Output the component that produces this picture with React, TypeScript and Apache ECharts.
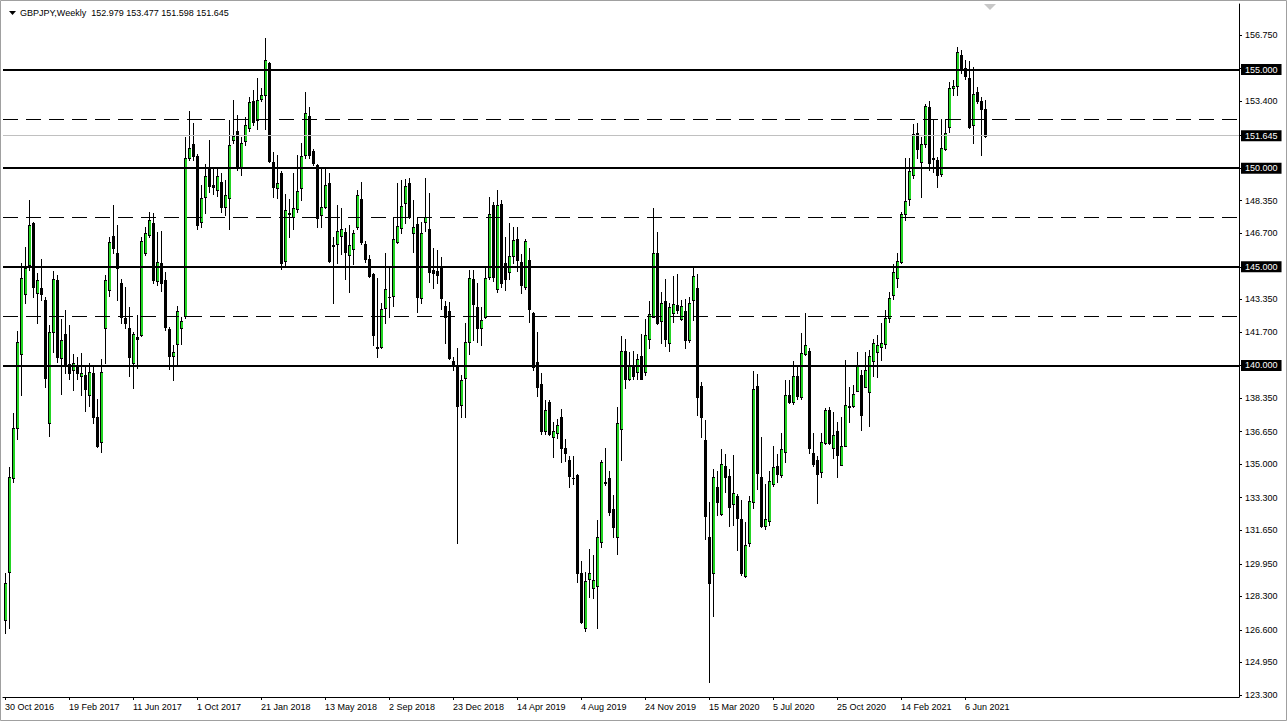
import React, { useEffect, useRef } from "react";
import * as echarts from "echarts";

const FONT = "'Liberation Sans', Arial, sans-serif";

const symbolTitle = "GBPJPY,Weekly";

// one label every 16 weekly bars, starting with the first bar
const dateLabels = [
  "30 Oct 2016", "19 Feb 2017", "11 Jun 2017", "1 Oct 2017", "21 Jan 2018",
  "13 May 2018", "2 Sep 2018", "23 Dec 2018", "14 Apr 2019", "4 Aug 2019",
  "24 Nov 2019", "15 Mar 2020", "5 Jul 2020", "25 Oct 2020", "14 Feb 2021",
  "6 Jun 2021",
];
const labelStep = 16;
// bars that fit in the window, including the empty space on the right
const totalSlots = 309;

const opens = [
  127.10, 129.55, 134.28, 136.81, 140.57, 143.60, 145.09, 147.23, 143.66, 143.95,
  143.32, 137.07, 141.70, 144.33, 140.36, 141.60, 140.08, 139.77, 139.91, 139.47,
  139.52, 138.50, 139.64, 137.40, 136.10, 141.88, 143.82, 146.55, 145.69, 144.16,
  142.40, 141.88, 140.15, 141.46, 141.56, 145.72, 146.60, 147.20, 144.30, 145.18,
  144.33, 141.85, 140.50, 141.08, 141.88, 142.51, 150.53, 151.22, 150.60, 147.28,
  148.54, 150.01, 149.15, 148.90, 149.28, 148.04, 148.47, 151.43, 151.89, 150.03,
  151.38, 152.06, 153.41, 152.44, 153.52, 153.71, 155.34, 150.33, 148.98, 149.76,
  145.30, 147.67, 147.53, 147.91, 148.98, 150.67, 152.65, 150.87, 150.16, 147.63,
  148.04, 149.23, 146.05, 146.15, 146.58, 146.78, 145.60, 145.91, 147.00, 148.44,
  146.18, 145.42, 144.63, 140.95, 140.93, 142.90, 143.45, 143.50, 146.24, 146.97,
  148.26, 149.27, 146.72, 147.17, 143.40, 147.27, 146.90, 144.85, 144.77, 145.00,
  142.99, 142.74, 140.23, 140.03, 137.99, 139.35, 141.17, 144.38, 142.98, 141.88,
  142.46, 144.50, 148.13, 143.90, 148.17, 145.18, 144.72, 145.55, 146.40, 145.26,
  143.98, 145.35, 142.65, 140.19, 139.06, 136.69, 138.17, 136.40, 136.58, 137.38,
  135.80, 135.22, 134.32, 134.45, 129.46, 126.71, 129.18, 128.70, 128.80, 131.07,
  134.10, 134.30, 132.72, 131.29, 136.78, 140.74, 139.32, 139.92, 139.69, 140.50,
  139.69, 141.34, 142.48, 145.70, 142.23, 143.25, 141.14, 142.68, 143.06, 142.38,
  142.76, 141.30, 143.30, 143.95, 138.95, 136.20, 131.33, 129.50, 133.84, 132.47,
  134.92, 134.38, 132.98, 133.39, 132.22, 129.33, 130.99, 133.10, 138.96, 134.33,
  131.84, 132.14, 133.99, 134.90, 134.45, 135.63, 138.50, 138.17, 139.47, 138.39,
  140.60, 140.75, 135.58, 135.21, 134.62, 136.06, 137.72, 135.83, 136.68, 134.98,
  135.92, 137.88, 137.93, 138.72, 139.52, 138.93, 138.67, 140.24, 140.70, 140.95,
  141.10, 142.40, 143.55, 144.42, 145.26, 147.68, 148.42, 149.63, 151.77, 150.30,
  151.21, 153.11, 150.50, 150.40, 149.70, 150.96, 152.10, 154.05, 154.14, 155.74,
  155.06, 154.56, 152.19, 153.88, 153.42, 152.979,
];

const closes = [
  128.98, 134.35, 136.81, 141.18, 144.42, 144.93, 147.14, 143.98, 144.33, 143.60,
  139.39, 141.70, 144.37, 140.45, 141.28, 139.97, 139.64, 140.12, 139.61, 139.64,
  138.81, 139.69, 137.38, 135.92, 139.69, 144.33, 146.24, 145.94, 144.93, 142.44,
  142.17, 140.45, 141.60, 141.36, 146.32, 146.70, 147.37, 144.33, 145.26, 144.16,
  141.93, 140.48, 140.66, 142.76, 142.25, 150.53, 151.03, 150.60, 147.12, 148.47,
  149.59, 149.10, 149.03, 149.60, 148.04, 148.64, 151.20, 151.63, 150.03, 151.30,
  152.19, 153.36, 152.36, 153.45, 153.72, 155.48, 150.37, 149.03, 149.23, 145.20,
  147.88, 147.75, 148.00, 148.84, 150.60, 152.79, 150.67, 150.25, 147.49, 148.04,
  149.14, 145.30, 146.10, 146.82, 146.90, 145.77, 146.12, 146.70, 148.64, 146.28,
  145.42, 144.53, 141.55, 140.90, 142.87, 143.87, 143.45, 146.40, 147.07, 148.10,
  149.10, 147.54, 147.02, 143.45, 146.70, 147.53, 144.72, 144.69, 144.60, 143.40,
  142.48, 140.40, 139.96, 137.95, 139.27, 141.20, 144.45, 143.10, 141.88, 142.30,
  144.42, 147.66, 144.48, 148.13, 144.20, 144.37, 145.54, 146.36, 145.33, 144.08,
  146.30, 142.85, 139.91, 138.89, 136.69, 137.74, 136.53, 136.67, 137.00, 135.80,
  135.57, 134.38, 134.28, 129.50, 127.00, 129.10, 129.48, 129.13, 131.29, 135.12,
  134.05, 132.55, 131.81, 137.10, 140.74, 139.34, 139.96, 139.47, 140.33, 139.34,
  141.55, 142.60, 145.70, 142.14, 143.19, 141.34, 142.96, 143.10, 142.83, 143.00,
  141.30, 143.16, 144.54, 138.40, 137.40, 132.35, 129.00, 134.35, 133.10, 134.99,
  134.33, 132.83, 133.54, 132.27, 129.50, 130.90, 133.14, 138.79, 134.57, 131.86,
  132.20, 134.16, 134.87, 134.50, 135.75, 138.50, 138.17, 139.47, 138.43, 140.62,
  141.06, 135.80, 135.00, 134.50, 136.14, 137.75, 136.06, 136.48, 135.46, 135.90,
  138.00, 137.95, 138.56, 139.97, 137.49, 139.77, 140.48, 141.15, 141.06, 141.12,
  142.40, 143.44, 144.72, 145.31, 147.68, 148.34, 149.86, 151.72, 150.96, 151.21,
  153.13, 150.24, 150.45, 149.65, 151.00, 151.77, 154.06, 154.14, 155.88, 155.01,
  154.67, 152.11, 153.76, 153.42, 152.99, 151.645,
];

const lows = [
  126.44, 126.70, 134.10, 136.27, 138.50, 143.17, 144.84, 143.47, 142.14, 143.32,
  138.89, 136.43, 140.70, 140.20, 138.55, 139.60, 139.34, 138.76, 139.34, 138.50,
  137.71, 137.95, 137.10, 135.85, 135.60, 140.12, 143.50, 145.69, 143.32, 142.17,
  141.90, 139.47, 138.86, 139.86, 141.50, 145.60, 146.50, 144.20, 144.10, 143.80,
  141.80, 139.81, 139.27, 140.06, 141.10, 142.40, 150.40, 150.40, 146.90, 147.02,
  147.75, 148.80, 148.70, 148.60, 147.80, 147.63, 146.94, 151.26, 149.90, 149.66,
  151.17, 151.90, 152.20, 151.98, 153.40, 151.99, 150.30, 148.55, 148.47, 144.90,
  145.00, 146.50, 146.90, 147.80, 148.39, 150.50, 150.50, 150.16, 147.02, 147.02,
  147.96, 145.26, 143.19, 145.17, 145.67, 144.38, 143.75, 145.15, 146.90, 146.18,
  145.27, 144.50, 141.04, 140.45, 140.87, 142.14, 142.48, 143.00, 146.20, 146.70,
  147.20, 147.45, 145.76, 142.72, 143.17, 146.82, 144.24, 143.95, 144.16, 142.84,
  141.15, 140.35, 139.77, 131.02, 137.40, 137.37, 140.56, 141.30, 141.20, 141.04,
  142.40, 144.40, 144.30, 143.73, 144.00, 143.83, 144.38, 145.18, 144.77, 143.65,
  143.90, 142.20, 139.77, 138.45, 136.55, 136.53, 136.46, 135.38, 136.30, 135.12,
  135.17, 133.83, 134.00, 129.04, 126.93, 126.55, 128.27, 128.20, 126.68, 130.82,
  133.94, 132.42, 131.29, 130.45, 135.20, 138.85, 139.25, 139.34, 139.34, 139.31,
  139.52, 140.87, 142.46, 142.10, 141.15, 140.99, 140.74, 142.20, 142.64, 142.30,
  140.87, 141.20, 142.30, 137.50, 136.40, 131.20, 123.97, 127.30, 132.42, 132.40,
  133.59, 131.87, 131.90, 130.65, 129.40, 129.27, 130.85, 132.76, 133.73, 131.80,
  131.69, 131.90, 133.89, 134.12, 134.33, 135.12, 138.08, 138.05, 138.28, 138.30,
  140.54, 135.55, 134.90, 133.02, 134.36, 136.00, 136.00, 135.30, 134.36, 134.96,
  135.90, 137.15, 137.90, 138.70, 136.73, 138.90, 136.93, 139.47, 139.43, 140.28,
  140.90, 142.20, 143.35, 143.99, 145.20, 147.38, 148.14, 149.48, 150.50, 148.52,
  151.09, 149.91, 149.82, 149.05, 149.60, 150.90, 151.85, 153.71, 153.71, 154.80,
  154.50, 152.02, 151.29, 153.30, 150.66, 151.598,
];

const highs = [
  129.48, 134.87, 137.60, 141.75, 145.18, 146.00, 148.40, 147.27, 144.67, 145.38,
  143.49, 142.05, 144.79, 144.59, 142.34, 142.80, 142.05, 140.60, 140.43, 140.62,
  140.03, 140.12, 139.95, 138.30, 140.31, 144.59, 146.53, 148.14, 147.10, 144.37,
  143.98, 142.97, 141.70, 142.55, 146.53, 147.00, 147.80, 147.75, 146.78, 146.82,
  144.74, 141.96, 141.06, 143.00, 142.46, 151.60, 152.90, 152.27, 150.70, 149.15,
  150.23, 151.43, 150.03, 149.98, 149.74, 149.40, 152.44, 153.46, 152.69, 151.60,
  152.57, 153.60, 153.97, 154.56, 154.07, 156.58, 155.40, 150.82, 150.65, 149.85,
  148.70, 148.46, 149.76, 150.67, 151.26, 153.86, 153.10, 150.95, 150.20, 149.98,
  149.98, 149.74, 146.53, 148.13, 147.96, 146.95, 147.12, 146.87, 148.89, 149.30,
  146.30, 145.60, 144.70, 144.43, 143.16, 145.68, 145.00, 147.54, 149.23, 149.40,
  149.44, 149.48, 148.39, 147.53, 147.27, 149.48, 148.73, 145.93, 145.85, 145.48,
  143.28, 143.23, 140.45, 140.87, 139.52, 142.16, 144.85, 144.85, 144.16, 142.94,
  145.04, 148.55, 148.30, 148.90, 148.39, 146.50, 147.20, 147.00, 147.00, 145.65,
  146.43, 145.93, 142.70, 141.70, 139.63, 138.25, 138.25, 137.15, 137.31, 137.78,
  136.25, 135.40, 135.40, 134.50, 130.07, 129.55, 130.70, 130.40, 132.17, 135.20,
  135.80, 134.63, 133.44, 137.90, 141.50, 141.32, 140.70, 140.74, 140.58, 141.60,
  142.38, 143.28, 147.96, 146.78, 143.74, 144.37, 143.17, 144.54, 144.64, 143.30,
  143.36, 143.49, 145.00, 144.64, 139.17, 137.23, 133.10, 134.75, 134.67, 135.75,
  135.50, 134.73, 135.46, 133.50, 133.18, 132.08, 133.39, 139.74, 139.57, 136.39,
  133.99, 134.67, 135.92, 135.52, 136.56, 139.27, 139.27, 140.24, 139.94, 141.63,
  142.68, 140.87, 136.56, 135.41, 136.56, 137.83, 137.91, 137.66, 137.15, 137.40,
  140.28, 138.90, 139.01, 140.70, 139.77, 140.70, 140.79, 141.33, 141.55, 142.14,
  142.80, 143.70, 145.14, 145.68, 147.80, 150.50, 150.50, 152.24, 152.27, 151.60,
  153.27, 153.40, 152.48, 150.58, 152.48, 152.48, 154.39, 154.47, 156.13, 155.99,
  155.48, 155.45, 155.11, 154.13, 153.59, 153.477,
];

// price scale marks on the right axis
const priceTicks = [
  123.3, 124.95, 126.6, 128.3, 129.95, 131.65, 133.3, 135.0, 136.65, 138.35,
  140.0, 141.7, 143.35, 145.0, 146.7, 148.35, 150.0, 151.65, 153.4, 155.05, 156.75,
];
// horizontal levels: solid round numbers and dashed half-way levels
const roundLevels = [155, 150, 145, 140];
const halfLevels = [152.5, 147.5, 142.5];

const BULL = "#22d422";
const W = 1287;
const H = 721;
const plotLeft = 3;
const plotRight = 1239;
const plotTop = 4;
const plotBottom = 697;
// 123.300 sits at y=695 and 156.750 at y=35
const pxPerUnit = (695 - 35) / (156.75 - 123.3);
const yMin = 123.3 - (plotBottom - 695) / pxPerUnit;
const yMax = 123.3 + (695 - plotTop) / pxPerUnit;

const block = (x: number, y: number, w: number, h: number, fill: string, z2 = 0) => ({
  type: "rect",
  z2,
  shape: { x, y, width: w, height: Math.max(h, 1) },
  style: { fill },
});

// one weekly bar on whole pixels: a wick above and below the body;
// rising bars get a green core inside a dark edge, falling bars are solid black
function renderCandle(params: any, api: any) {
  const k = params.dataIndex;
  const i = api.value(0);
  const [x, yO] = api.coord([i, api.value(1)]);
  const yC = api.coord([i, api.value(2)])[1];
  const yL = api.coord([i, api.value(3)])[1];
  const yH = api.coord([i, api.value(4)])[1];
  const rising = closes[k] > opens[k];
  const px = Math.floor(x + 0.001);
  const top = Math.round(Math.min(yO, yC));
  const bot = Math.round(Math.max(yO, yC));
  const wTop = Math.round(yH);
  const wBot = Math.round(yL);
  const children: any[] = [];
  if (top > wTop) children.push(block(px, wTop, 1, top - wTop, "#000"));
  if (wBot > bot) children.push(block(px, bot + 1, 1, wBot - bot, "#000"));
  if (rising && bot - top >= 2) {
    children.push(block(px - 1, top, 3, bot - top + 1, "#000"));
    children.push(block(px, top + 1, 2, bot - top - 1, BULL, 5));
  } else {
    children.push(block(px - 1, top, 3, bot - top + 1, "#000"));
  }
  return { type: "group", children };
}

export default function App() {
  const ref = useRef<HTMLDivElement>(null);

  useEffect(() => {
    if (!ref.current) return;
    const chart = echarts.init(ref.current, undefined, { renderer: "svg" });

    const last = opens.length - 1;
    const bid = closes[last];
    const ohlcText = [opens[last], highs[last], lows[last], closes[last]]
      .map((v) => v.toFixed(3))
      .join(" ");

    const slots = Array.from({ length: totalSlots }, (_, i) => String(i));
    const bars = opens.map((o, i) => [i, o, closes[i], lows[i], highs[i]]);

    const boxed = [...roundLevels, bid];
    const labelledTicks = priceTicks.filter(
      (v) => !boxed.some((b) => Math.abs(b - v) < 0.6)
    );

    const isDateSlot = (i: number) =>
      i % labelStep === 0 && i / labelStep < dateLabels.length;

    const boxLabel = {
      show: true,
      position: "end",
      distance: 2,
      color: "#ffffff",
      backgroundColor: "#000000",
      padding: [1, 4, 0, 4],
      fontSize: 9,
      fontFamily: FONT,
      lineHeight: 10,
    };

    chart.setOption({
      animation: false,
      backgroundColor: "#ffffff",
      grid: {
        left: plotLeft,
        right: W - plotRight,
        top: plotTop,
        bottom: H - plotBottom,
        containLabel: false,
      },
      xAxis: {
        type: "category",
        data: slots,
        boundaryGap: true,
        axisLine: { show: true, onZero: false, lineStyle: { color: "#000", width: 1 } },
        axisTick: {
          show: true,
          alignWithLabel: true,
          interval: (i: number) => isDateSlot(i),
          length: 3,
          lineStyle: { color: "#000" },
        },
        axisLabel: {
          interval: (i: number) => isDateSlot(i),
          formatter: (_v: string, i: number) => dateLabels[i / labelStep] ?? "",
          align: "left",
          margin: 5,
          color: "#000",
          fontSize: 9,
          fontFamily: FONT,
        },
        splitLine: { show: false },
      },
      yAxis: {
        type: "value",
        position: "right",
        min: yMin,
        max: yMax,
        axisLine: { show: true, lineStyle: { color: "#000", width: 1 } },
        axisTick: {
          show: true,
          length: 3,
          customValues: priceTicks,
          lineStyle: { color: "#000" },
        },
        axisLabel: {
          customValues: labelledTicks,
          formatter: (v: number) => v.toFixed(3),
          margin: 6,
          color: "#000",
          fontSize: 9,
          fontFamily: FONT,
        },
        splitLine: { show: false },
      },
      series: [
        {
          type: "custom",
          name: "GBPJPY",
          data: bars,
          encode: { x: 0, y: [1, 2, 3, 4] },
          renderItem: renderCandle,
          clip: true,
          silent: true,
        },
        {
          type: "line",
          name: "levels",
          data: [],
          silent: true,
          markLine: {
            silent: true,
            symbol: ["none", "none"],
            animation: false,
            label: boxLabel,
            data: [
              ...halfLevels.map((v) => ({
                yAxis: v,
                lineStyle: { color: "#000", width: 1, type: [15, 8] },
                label: { show: false },
              })),
              {
                yAxis: bid,
                lineStyle: { color: "#c0c0c0", width: 1, type: "solid" },
                label: { ...boxLabel, formatter: bid.toFixed(3) },
              },
              ...roundLevels.map((v) => ({
                yAxis: v,
                lineStyle: { color: "#000", width: 2, type: "solid" },
                label: { ...boxLabel, formatter: v.toFixed(3) },
              })),
            ],
          },
        },
      ],
      graphic: [
        {
          type: "rect",
          silent: true,
          shape: { x: 0.5, y: 0.5, width: W - 1, height: H - 1 },
          style: { fill: "none", stroke: "#a0a0a0", lineWidth: 1 },
        },
        {
          type: "polygon",
          silent: true,
          shape: { points: [[9, 11], [16, 11], [12.5, 15]] },
          style: { fill: "#000" },
        },
        {
          type: "text",
          silent: true,
          x: 20,
          y: 13,
          style: {
            text: `${symbolTitle}  ${ohlcText}`,
            fill: "#000",
            font: `9px ${FONT}`,
            verticalAlign: "middle",
          },
        },
        {
          type: "polygon",
          silent: true,
          shape: { points: [[984, 4], [996, 4], [990, 10]] },
          style: { fill: "#c8c8c8" },
        },
      ],
    });

    return () => chart.dispose();
  }, []);

  return (
    <div
      ref={ref}
      style={{ position: "fixed", left: 0, top: 0, width: W, height: H, background: "#fff" }}
    />
  );
}
